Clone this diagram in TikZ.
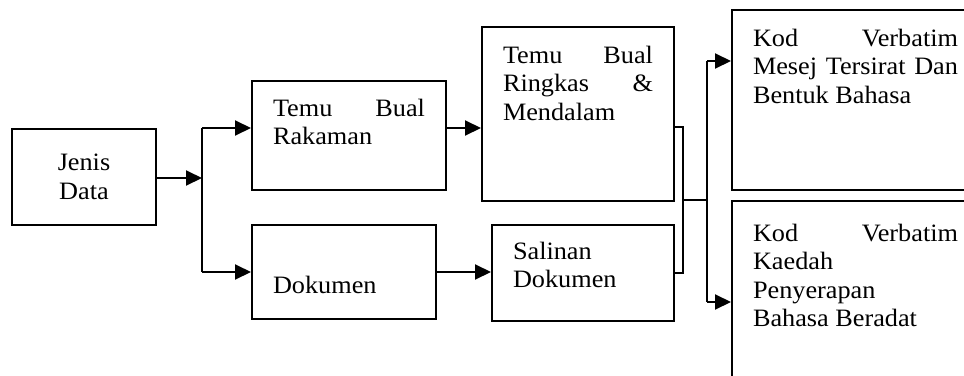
\documentclass[tikz,border=0pt]{standalone}
\usepackage{fontspec}
\setmainfont{Liberation Serif}[FakeStretch=1.05]
\usepackage{tikz}
\usetikzlibrary{arrows.meta, calc, positioning}

\begin{document}
\begin{tikzpicture}[x=1pt, y=-1pt, line width=2pt, every node/.style={font=\fontsize{25}{28.5}\selectfont},
    blok/.style={draw, line width=2pt, anchor=north west, inner xsep=21pt, inner ysep=0pt, align=justify},
    tip/.style={-{Triangle[length=16pt, width=15pt]}}]
    \useasboundingbox (0,0) rectangle (964,375);
    \clip (0,0) rectangle (964,375);
    \node[draw, anchor=north west, minimum width=144pt, minimum height=96pt, inner sep=0pt, align=center] (jenis) at (11,128) {Jenis\\Data};
    \node[blok, text width=152pt, text height=35pt, text depth=74pt] (rakaman) at (251,80) {Temu Bual\linebreak Rakaman};
    \node[blok, text width=142pt, text height=68pt, text depth=26pt] (dokumen) at (251,224) {Dokumen};
    \node[blok, text width=150pt, text height=36pt, text depth=138pt] (ringkas) at (481,26) {Temu Bual\linebreak Ringkas \&\linebreak Mendalam};
    \node[blok, align=left, text width=140pt, text height=34pt, text depth=62pt] (salinan) at (491,224) {Salinan\\Dokumen};
    \node[blok, text width=205pt, text height=36pt, text depth=144pt] (kodmesej) at (731,9) {Kod Verbatim\linebreak Mesej Tersirat Dan\linebreak Bentuk Bahasa};
    \node[blok, text width=205pt, text height=40pt, text depth=180pt] (kodkaedah) at (731,200) {Kod Verbatim\linebreak Kaedah\\Penyerapan\\Bahasa Beradat};
    \coordinate (split) at (202,178);
    \coordinate (atas) at (202,128);
    \coordinate (bawah) at (202,272);
    \coordinate (keluar) at (683,127);
    \coordinate (gabung) at (683,200);
    \coordinate (cabang) at (707,200);
    \coordinate (atas2) at (707,61);
    \coordinate (bawah2) at (707,302);
    \draw[tip] (jenis.east |- split) -- (split);
    \draw (atas) -- (bawah);
    \draw[tip] (atas) -- (atas -| rakaman.west);
    \draw[tip] (bawah) -- (bawah -| dokumen.west);
    \draw[tip] (rakaman.east |- atas) -- (ringkas.west |- atas);
    \draw[tip] (dokumen.east |- bawah) -- (salinan.west |- bawah);
    \draw (ringkas.east |- keluar) -- (keluar) |- (salinan.east);
    \draw (gabung) -- (cabang);
    \draw (atas2) -- (bawah2);
    \draw[tip] (atas2) -- (atas2 -| kodmesej.west);
    \draw[tip] (bawah2) -- (bawah2 -| kodkaedah.west);
\end{tikzpicture}
\end{document}
